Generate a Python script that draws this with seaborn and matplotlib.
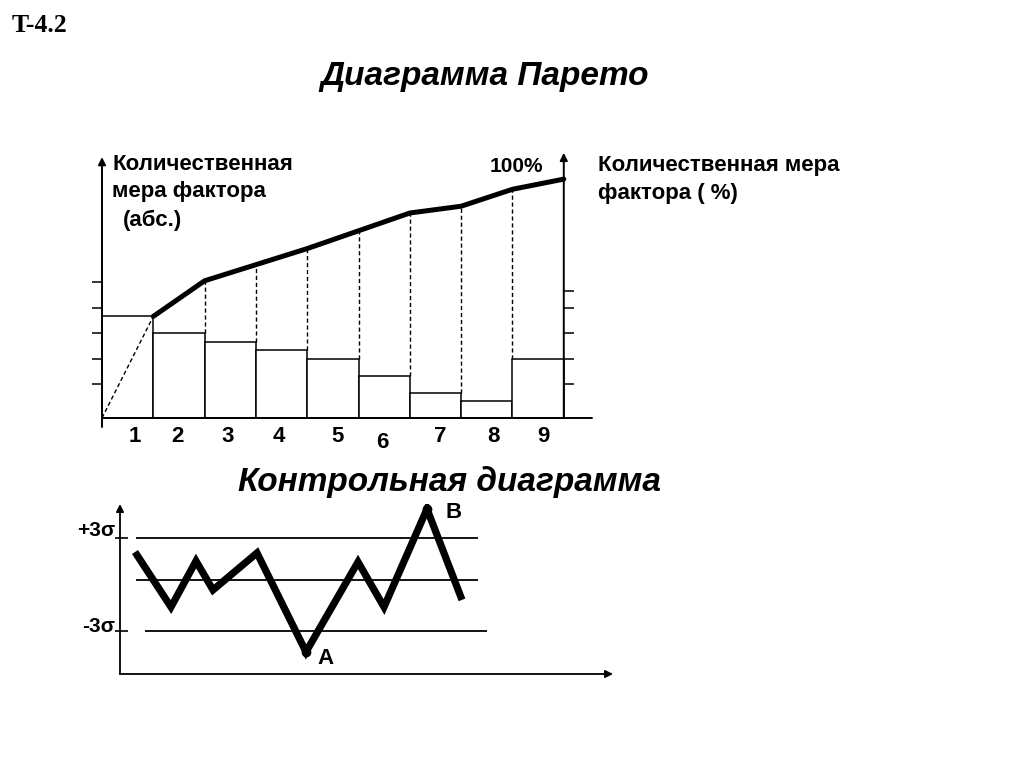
import numpy as np
import pandas as pd
import matplotlib
matplotlib.use("Agg")
import matplotlib.pyplot as plt
import seaborn as sns

# ---------------- data ----------------
# Pareto chart
factors = ["1", "2", "3", "4", "5", "6", "7", "8", "9"]
bar_values = [12, 10, 9, 8, 7, 5, 3, 2, 7]
cum_values = [12, 16.2, 18.1, 20, 22.1, 24.2, 25, 27, 28.2]
left_ticks = [4, 7, 10, 13, 16]
right_ticks = [4, 7, 10, 13, 15]

# Control chart
ctrl_x = [1.5, 5.1, 7.6, 9.3, 13.7, 18.6, 23.8, 26.4, 30.7, 34.2]
ctrl_y = [2.08, -1.46, 1.50, -0.36, 2.02, -4.35, 1.44, -1.46, 4.85, -1.0]
ucl, center, lcl = 3.0, 0.28, -3.0

# ---------------- style ----------------
sns.set_theme(style="white")
plt.rcParams['font.family'] = ['Liberation Sans', 'DejaVu Sans']

W, H = 1024, 768
fig = plt.figure(figsize=(W / 100, H / 100), dpi=100)
fig.patch.set_facecolor("white")


def px_axes(l, t, r, b):
    return fig.add_axes([l / W, 1 - b / H, (r - l) / W, (b - t) / H])


def ftext(x, y, s, **kw):
    kw.setdefault("fontweight", "bold")
    kw.setdefault("color", "black")
    return fig.text(x / W, 1 - y / H, s, **kw)


# ---------------- Pareto ----------------
ax = px_axes(102, 152, 592, 427)
n = len(factors)
edges = np.arange(n + 1)
centers = edges[:-1] + 0.5
df = pd.DataFrame({"x": centers, "v": bar_values})
sns.barplot(data=df, x="x", y="v", native_scale=True, width=1.0,
            color="white", edgecolor="black", linewidth=1.1,
            saturation=1, errorbar=None, ax=ax, zorder=3)
ax.set_xlim(0, 9.55)
ax.set_ylim(-1.06, 31.4)
for s in ax.spines.values():
    s.set_visible(False)
ax.set_xticks([])
ax.set_yticks([])
ax.set_xlabel("")
ax.set_ylabel("")
ax.patch.set_alpha(0)

# dashed start segment and dashed verticals
ax.plot([0, 1], [0, cum_values[0]], color="black", lw=1.0,
        ls=(0, (3, 2)), zorder=4)
bv = np.array(bar_values)
bottoms = np.maximum(bv[:-1], bv[1:])[1:]
ax.vlines(edges[2:n], bottoms, np.array(cum_values[1:n - 1]),
          colors="black", lw=1.0, linestyles=(0, (3, 2)), zorder=4)

# cumulative line
sns.lineplot(x=edges[1:], y=cum_values, color="black", lw=3.6, ax=ax,
             zorder=6, solid_joinstyle="miter")

# axes
ax.plot([0, 9.55], [0, 0], color="black", lw=1.4, clip_on=False, zorder=5)
ax.plot([0, 0], [-1.06, 0], color="black", lw=1.4, clip_on=False, zorder=5)
ax.annotate("", xy=(0, 30.8), xytext=(0, 0),
            arrowprops=dict(arrowstyle="-|>", color="black", lw=1.4,
                            mutation_scale=11, shrinkA=0, shrinkB=0))
ax.annotate("", xy=(9, 31.3), xytext=(9, 0),
            arrowprops=dict(arrowstyle="-|>", color="black", lw=1.4,
                            mutation_scale=11, shrinkA=0, shrinkB=0))
ax.hlines(left_ticks, -0.19, 0, colors="black", lw=1.1, clip_on=False)
ax.hlines(right_ticks, 9, 9.19, colors="black", lw=1.1, clip_on=False)

label_px = [135, 177, 228, 279, 338, 382, 440, 493, 543]
label_py = [436, 436, 436, 436, 436, 442, 436, 436, 436]
for lab, x, y in zip(factors, label_px, label_py):
    ftext(x, y, lab, fontsize=16, ha="center", va="center")

# ---------------- Control chart ----------------
ax2 = px_axes(120, 504, 613, 674)
ax2.set_xlim(0, 49.3)
ax2.set_ylim(-5.77, 5.17)
for s in ax2.spines.values():
    s.set_visible(False)
ax2.set_xticks([])
ax2.set_yticks([])
ax2.patch.set_alpha(0)

ax2.hlines([ucl, center], 1.6, 35.8, colors="black", lw=1.3)
ax2.hlines([lcl], 2.5, 36.7, colors="black", lw=1.3)
ax2.hlines([ucl, lcl], -0.5, 0.8, colors="black", lw=1.2, clip_on=False)

sns.lineplot(x=ctrl_x, y=ctrl_y, color="black", lw=5.2, ax=ax2, sort=False,
             solid_joinstyle="miter", solid_capstyle="butt", zorder=5)
i_min = int(np.argmin(ctrl_y))
i_max = int(np.argmax(ctrl_y))
ax2.plot([ctrl_x[i_min], ctrl_x[i_max]], [ctrl_y[i_min], ctrl_y[i_max]],
         ls="none", marker="o", ms=6, color="black", zorder=6, clip_on=False)

ax2.annotate("", xy=(0, 1), xytext=(0, 0), xycoords="axes fraction",
             textcoords="axes fraction",
             arrowprops=dict(arrowstyle="-|>", color="black", lw=1.3,
                             mutation_scale=11, shrinkA=0, shrinkB=0))
ax2.annotate("", xy=(1, 0), xytext=(0, 0), xycoords="axes fraction",
             textcoords="axes fraction",
             arrowprops=dict(arrowstyle="-|>", color="black", lw=1.3,
                             mutation_scale=11, shrinkA=0, shrinkB=0))

# ---------------- texts ----------------
ftext(12, 25, "T-4.2", fontsize=18.5, ha="left", va="center",
      family=["Liberation Serif", "DejaVu Serif"])
ftext(485, 77, "Диаграмма Парето", fontsize=24, ha="center", va="center",
      style="italic")
ftext(450, 482, "Контрольная диаграмма", fontsize=24, ha="center",
      va="center", style="italic")

ftext(112, 165, "Количественная", fontsize=16, ha="left", va="center")
ftext(112, 192, "мера фактора", fontsize=16, ha="left", va="center")
ftext(123, 220, "(абс.)", fontsize=16, ha="left", va="center")
ftext(516, 166, "100%", fontsize=15, ha="center", va="center")
ftext(598, 165, "Количественная мера", fontsize=16, ha="left", va="center")
ftext(598, 193, "фактора ( %)", fontsize=16, ha="left", va="center")

ftext(115, 531, "+3σ", fontsize=15, ha="right", va="center")
ftext(115, 627, "-3σ", fontsize=15, ha="right", va="center")
ftext(325, 659, "A", fontsize=16, ha="center", va="center")
ftext(454, 512, "B", fontsize=16, ha="center", va="center")

fig.savefig("out.png", dpi=100)
